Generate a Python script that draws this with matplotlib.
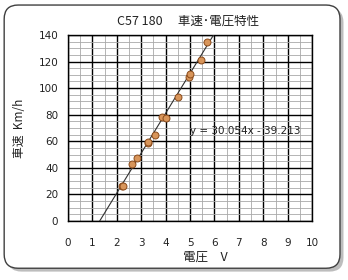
import numpy as np
import matplotlib.pyplot as plt
from matplotlib.patches import FancyBboxPatch
from matplotlib.ticker import MultipleLocator

plt.rcParams['font.family'] = ['Noto Sans CJK JP', 'DejaVu Sans']

# measured points (voltage V, speed km/h)
voltage = [2.22, 2.27, 2.61, 2.81, 3.27, 3.29, 3.58, 3.84, 4.00, 4.52, 4.96, 4.99, 5.45, 5.71]
speed = [26.0, 26.0, 42.9, 47.6, 58.5, 59.7, 64.7, 78.5, 77.3, 93.0, 108.6, 110.6, 121.0, 134.9]
slope, intercept = 30.054, -39.213

title = "C57 180　 車速･電圧特性"
xlabel = "電圧　V"
ylabel = "車速  Km/h"
eq_text = "y = 30.054x - 39.213"

fig = plt.figure(figsize=(3.48, 2.8), dpi=100)

# rounded frame with shadow
shadow = FancyBboxPatch((0.022, 0.03), 0.965, 0.94, boxstyle="round,pad=0,rounding_size=0.04",
                        transform=fig.transFigure, facecolor="#bdbdbd", edgecolor="none",
                        zorder=0, mutation_aspect=348 / 280)
frame = FancyBboxPatch((0.012, 0.042), 0.965, 0.94, boxstyle="round,pad=0,rounding_size=0.04",
                       transform=fig.transFigure, facecolor="white", edgecolor="#404040",
                       linewidth=1.0, zorder=0.5, mutation_aspect=348 / 280)
fig.patches.extend([shadow, frame])

ax = fig.add_axes([0.195, 0.211, 0.702, 0.664])
ax.set_zorder(2)
ax.set_xlim(0, 10)
ax.set_ylim(0, 140)
ax.xaxis.set_major_locator(MultipleLocator(1))
ax.xaxis.set_minor_locator(MultipleLocator(0.5))
ax.yaxis.set_major_locator(MultipleLocator(20))
ax.yaxis.set_minor_locator(MultipleLocator(5))
ax.grid(which="minor", color="#a8a8a8", linewidth=0.6)
ax.grid(which="major", color="black", linewidth=1.0)
ax.set_axisbelow(True)
for s in ax.spines.values():
    s.set_color("black")
    s.set_linewidth(1.0)
ax.tick_params(which="both", length=0)
ax.tick_params(axis="x", pad=12, labelsize=7.5, colors="#222222")
ax.tick_params(axis="y", pad=7, labelsize=7.5, colors="#222222")
for lab in ax.get_xticklabels() + ax.get_yticklabels():
    lab.set_family("DejaVu Sans")

# trendline
xs = np.array([-intercept / slope, (140 - intercept) / slope])
ax.plot(xs, slope * xs + intercept, color="#303030", linewidth=0.8, zorder=3)

ax.plot(voltage, speed, "o", markersize=5, markerfacecolor="#d8955a",
        markeredgecolor="#8a4a1a", markeredgewidth=0.7, zorder=4)

ax.text(5.0, 68, eq_text, fontsize=7.5, color="#222222", va="center", ha="left", zorder=5,
        family=['DejaVu Sans'])

fig.text(0.54, 0.925, title, ha="center", va="center", fontsize=9, color="#222222")
fig.text(0.59, 0.08, xlabel, ha="center", va="center", fontsize=9, color="#222222")
fig.text(0.055, 0.543, ylabel, ha="center", va="center", rotation=90, fontsize=8.5, color="#222222")

fig.savefig("out.png", dpi=100)
